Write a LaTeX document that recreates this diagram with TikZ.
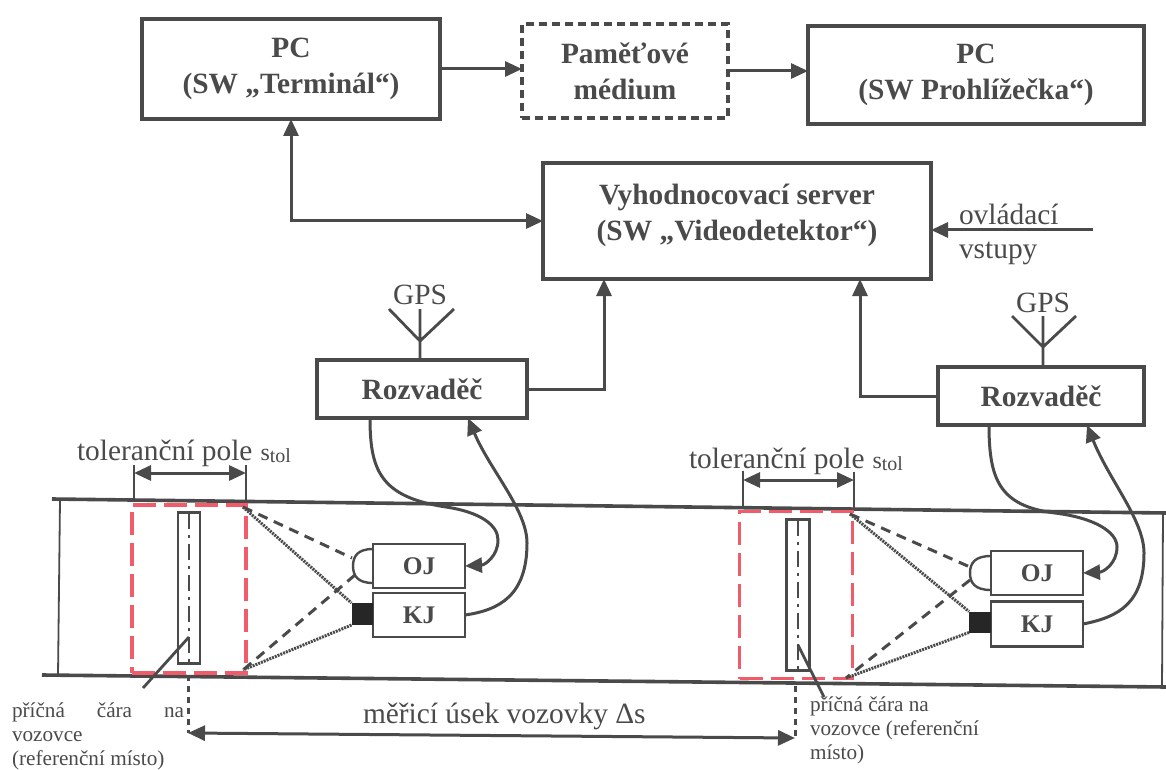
\documentclass[tikz,border=0pt]{standalone}
\usepackage{fontspec}
\usepackage{xcolor}
\usepackage{tikz}
\usetikzlibrary{arrows.meta, calc}
\setmainfont{Liberation Serif}
\definecolor{inkgrey}{RGB}{74, 74, 74}
\definecolor{polered}{RGB}{240, 92, 105}

\begin{document}
\begin{tikzpicture}[
        x=0.5pt, y=-0.5pt,
        every node/.style={text=inkgrey, inner sep=0pt, outer sep=0pt},
        box/.style={draw=inkgrey, line width=1.6pt, fill=white, align=center,
                    font=\fontsize{14.7}{18}\selectfont\bfseries},
        memobox/.style={box, dash pattern=on 4pt off 2.5pt},
        unitbox/.style={box, line width=1.3pt, minimum width=46pt, minimum height=22pt,
                        font=\fontsize{12.7}{14}\selectfont\bfseries},
        lens/.style={draw=inkgrey, line width=1.2pt},
        lab/.style={font=\fontsize{14.7}{18}\selectfont, anchor=base west},
        smalllab/.style={font=\fontsize{10.6}{12}\selectfont, anchor=north west, align=left},
        arr/.style={-{Triangle[length=8.5pt, width=7.5pt]}, line width=1.5pt, draw=inkgrey},
        biarr/.style={{Triangle[length=8.5pt, width=7.5pt]}-{Triangle[length=8.5pt, width=7.5pt]},
                      line width=1.5pt, draw=inkgrey},
        wire/.style={line width=1.4pt, draw=inkgrey},
        road/.style={line width=1.8pt, draw=inkgrey},
        field/.style={draw=polered, line width=1.9pt, dash pattern=on 11.5pt off 4pt},
        view/.style={draw=inkgrey, line width=1.5pt, dash pattern=on 5pt off 3.5pt},
        viewdot/.style={draw=inkgrey, line width=1.5pt, dash pattern=on 1pt off 0.5pt},
        axisline/.style={draw=inkgrey, line width=1.4pt, dash pattern=on 8pt off 3pt on 1.5pt off 3pt},
        refline/.style={draw=inkgrey, line width=1.5pt, dash pattern=on 3pt off 2.5pt}
      ]
        \useasboundingbox (0,0) rectangle (1166,770);

        % upper row
        \node[box, minimum width=149pt, minimum height=50pt] (pcterm) at (291,69)
          {PC\\(SW „Terminál“)};
        \node[box, memobox, minimum width=103pt, minimum height=47pt] (memo) at (625,71)
          {Paměťové\\médium};
        \node[box, minimum width=168pt, minimum height=49pt] (pcview) at (976,75)
          {PC\\(SW Prohlížečka“)};
        \node[box, minimum width=194pt, minimum height=58pt] (server) at (737,221)
          {Vyhodnocovací server\\(SW „Videodetektor“)\\[-9pt]\mbox{}};

        \draw[arr] (pcterm.east)--(pcterm.east -| memo.west);
        \draw[arr] (memo.east)--(memo.east -| pcview.west);
        \draw[biarr] (pcterm.south) |- (server.west);

        \coordinate (ctrl) at (1093,230);
        \draw[arr] (ctrl)--(ctrl -| server.east);
        \node[lab] (ctrla) at (959,225) {ovládací};
        \node[lab] (ctrlb) at (959,258) {vstupy};

        % cabinets and antennas
        \node[box, minimum width=105pt, minimum height=29pt] (rozva) at (422,389) {Rozvaděč};
        \node[box, minimum width=103pt, minimum height=29pt] (rozvb) at (1041,396) {Rozvaděč};
        \draw[arr] (rozva.east) -| ([xshift=-66.5pt]server.south);
        \draw[arr] (rozvb.west) -| ([xshift=61.5pt]server.south);

        \coordinate (forka) at (420,341);
        \coordinate (forkb) at (1043,347);
        \coordinate (tipa1) at (389,309);
        \coordinate (tipa2) at (420,309);
        \coordinate (tipa3) at (454,309);
        \coordinate (tipb1) at (1012,316);
        \coordinate (tipb2) at (1043,316);
        \coordinate (tipb3) at (1076,316);
        \draw[wire] (rozva.north -| forka) -- (forka) -- (tipa1) (forka) -- (tipa2) (forka) -- (tipa3);
        \draw[wire] (rozvb.north -| forkb) -- (forkb) -- (tipb1) (forkb) -- (tipb2) (forkb) -- (tipb3);
        \node[font=\fontsize{14.7}{18}\selectfont, anchor=base] (gpsa) at (420,304) {GPS};
        \node[font=\fontsize{14.7}{18}\selectfont, anchor=base] (gpsb) at (1043,312) {GPS};

        % road
        \coordinate (ra1) at (52,499);
        \coordinate (ra2) at (1166,513);
        \coordinate (rb1) at (42,675);
        \coordinate (rb2) at (1166,687);
        \draw[road] (ra1)--(ra2);
        \draw[road] (rb1)--(rb2);
        \coordinate (la) at (60,500);
        \coordinate (lb) at (58,676);
        \coordinate (lc) at (1163,513);
        \coordinate (ld) at (1162,687);
        \draw[wire, line width=0.9pt] (la)--(lb);
        \draw[wire, line width=0.9pt] (lc)--(ld);

        % left measuring place
        \node[field, minimum width=57pt, minimum height=84pt] (polea) at (189,589) {};
        \coordinate (tka1) at (134,465);
        \coordinate (tka2) at (134,501);
        \coordinate (tkb1) at (246,465);
        \coordinate (tkb2) at (246,503);
        \draw[wire] (tka1)--(tka2);
        \draw[wire] (tkb1)--(tkb2);
        \draw[biarr] (134,473)--(246,473);
        \node[lab] (tola) at (77,460) {toleranční pole\hspace{4pt}{\fontsize{12}{12}\selectfont s}\raisebox{-0.2ex}{\fontsize{10}{10}\selectfont tol}};
        \node[draw=inkgrey, line width=1.4pt, minimum width=11pt, minimum height=75.5pt] (bara) at (189,588) {};
        \draw[axisline] (bara.north)--(bara.south);
        \coordinate (leada) at (143,688);
        \draw[wire] (bara.center)++(0,49)--(leada);

        \node[unitbox] (oja) at (419,566) {OJ};
        \node[unitbox] (kja) at (419,615) {KJ};
        \draw[lens] (oja.north west)++(0,5) .. controls (358,549) and (353,556) .. (353,566)
                    .. controls (353,576) and (358,583) .. ($(oja.south west)+(0,-5)$);
        \node[fill=black!85, minimum width=10.5pt, minimum height=11pt] (cama) at (362,614) {};
        \coordinate (fta) at (243,507);
        \coordinate (fba) at (243,670);
        \draw[view] (fta)--(352,558);
        \draw[view] (355,575)--(fba);
        \draw[viewdot] (fta)--(cama.north west);
        \draw[viewdot] (cama.south west)--(fba);

        \draw[arr] ([xshift=-26pt]rozva.south) .. controls (370,470) and (380,497) .. (446,507)
                   .. controls (480,512) and (498,525) .. (498,540)
                   .. controls (498,556) and (485,565) .. (oja.east);
        \draw[arr] (kja.east) .. controls (500,610) and (527,595) .. (527,543)
                   .. controls (527,510) and (490,470) .. ([xshift=23pt]rozva.south);

        % right measuring place
        \node[field, minimum width=56.5pt, minimum height=83.5pt] (poleb) at (796,595) {};
        \coordinate (tkc1) at (743,471);
        \coordinate (tkc2) at (743,507);
        \coordinate (tkd1) at (854,472);
        \coordinate (tkd2) at (854,510);
        \draw[wire] (tkc1)--(tkc2);
        \draw[wire] (tkd1)--(tkd2);
        \draw[biarr] (743,480)--(854,480);
        \node[lab] (tolb) at (689,468) {toleranční pole\hspace{4pt}{\fontsize{12}{12}\selectfont s}\raisebox{-0.2ex}{\fontsize{10}{10}\selectfont tol}};
        \node[draw=inkgrey, line width=1.4pt, minimum width=11.5pt, minimum height=75.5pt] (barb) at (798,595) {};
        \draw[axisline] (barb.north)--(barb.south);
        \coordinate (leadb) at (824,697);
        \draw[wire] (barb.center)++(0,50)--(leadb);

        \node[unitbox] (ojb) at (1037,573) {OJ};
        \node[unitbox, minimum height=22.5pt] (kjb) at (1037,624) {KJ};
        \draw[lens] (ojb.north west)++(0,5) .. controls (975,556) and (970,563) .. (970,573)
                    .. controls (970,583) and (975,590) .. ($(ojb.south west)+(0,-5)$);
        \node[fill=black!85, minimum width=11pt, minimum height=10.5pt] (camb) at (980,622) {};
        \coordinate (ftb) at (850,514);
        \coordinate (fbb) at (846,678);
        \draw[view] (ftb)--(970,567);
        \draw[view] (970,580)--(fbb);
        \draw[viewdot] (ftb)--(camb.north west);
        \draw[viewdot] (camb.south west)--(fbb);

        \draw[arr] ([xshift=-26pt]rozvb.south) .. controls (989,479) and (999,506) .. (1055,513)
                   .. controls (1095,518) and (1117,532) .. (1117,547)
                   .. controls (1117,563) and (1104,572) .. (ojb.east);
        \draw[arr] (kjb.east) .. controls (1119,617) and (1144,603) .. (1144,553)
                   .. controls (1144,520) and (1109,480) .. ([xshift=23pt]rozvb.south);

        % section between the reference places
        \coordinate (refa) at (188,675);
        \coordinate (refb) at (795,686);
        \coordinate (enda) at (188,733);
        \coordinate (endb) at (795,738);
        \draw[refline] (refa)--(enda);
        \draw[refline] (refb)--(endb);
        \draw[biarr] (enda)--(endb);
        \node[lab] (useklab) at (363,723) {měřicí úsek vozovky Δs};

        \node[smalllab] (noteb) at (810,697) {příčná čára na\\vozovce (referenční\\místo)};
        \node[smalllab] (notea) at (12,703) {\makebox[86pt][s]{příčná\hfil čára\hfil na}\\vozovce\\(referenční místo)};
      \end{tikzpicture}
\end{document}
